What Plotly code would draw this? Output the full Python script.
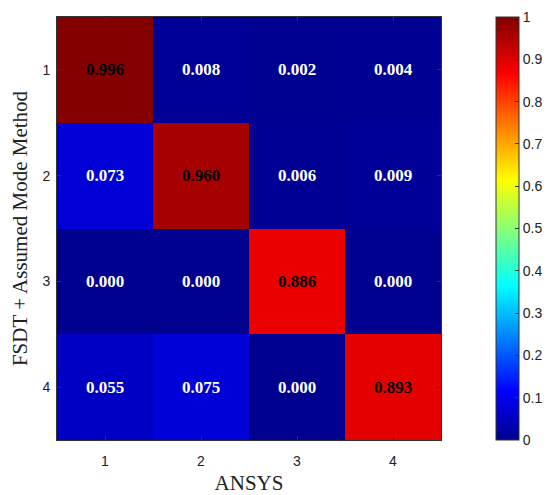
import plotly.graph_objects as go

# MAC values: rows = FSDT + Assumed Mode Method, cols = ANSYS
modes_x = [1, 2, 3, 4]
modes_y = [1, 2, 3, 4]
mac_row1 = [0.996, 0.008, 0.002, 0.004]
mac_row2 = [0.073, 0.960, 0.006, 0.009]
mac_row3 = [0.000, 0.000, 0.886, 0.000]
mac_row4 = [0.055, 0.075, 0.000, 0.893]
cbar_ticks = [0, 0.1, 0.2, 0.3, 0.4, 0.5, 0.6, 0.7, 0.8, 0.9, 1]
cbar_labels = ["0", "0.1", "0.2", "0.3", "0.4", "0.5", "0.6", "0.7", "0.8", "0.9", "1"]

z = [mac_row1, mac_row2, mac_row3, mac_row4]

# matlab-ish jet
jet = [[0.0, "rgb(0,0,143)"], [0.115, "rgb(0,0,255)"], [0.365, "rgb(0,255,255)"],
       [0.615, "rgb(255,255,0)"], [0.865, "rgb(255,0,0)"], [1.0, "rgb(128,0,0)"]]

# page body has an 8px margin, so the figure is a bit smaller than the window
W, H = 542, 487

fig = go.Figure(go.Heatmap(
    x=modes_x, y=modes_y, z=z, zmin=0, zmax=1, colorscale=jet,
    xgap=0, ygap=0, hoverinfo="skip",
    colorbar=dict(xref="container", x=488 / W, xanchor="left", xpad=0, ypad=0,
                  yref="paper", y=0.5, yanchor="middle", len=1, lenmode="fraction",
                  thickness=23, outlinecolor="#333", outlinewidth=1,
                  ticks="inside", ticklen=4, tickcolor="#333", ticklabeloverflow="allow",
                  tickvals=cbar_ticks, ticktext=cbar_labels,
                  tickfont=dict(family="Liberation Sans", size=14, color="#222")),
))

for i, row in enumerate(z):
    for j, v in enumerate(row):
        fig.add_annotation(x=modes_x[j], y=modes_y[i], text="<b>%.3f</b>" % v, showarrow=False,
                           font=dict(family="Liberation Serif", size=17,
                                     color="black" if v > 0.5 else "white"))

axis_common = dict(showline=True, linecolor="#333", linewidth=1, mirror="ticks",
                   ticks="inside", ticklen=4, tickcolor="#333",
                   tickfont=dict(family="Liberation Sans", size=14, color="#222"),
                   showgrid=False, zeroline=False, tickvals=[1, 2, 3, 4])
fig.update_xaxes(**axis_common, range=[0.5, 4.5], automargin=False, ticklabelstandoff=8,
                 title=dict(text="ANSYS", font=dict(family="Liberation Serif", size=21, color="#222"), standoff=10))
fig.update_yaxes(**axis_common, range=[4.5, 0.5], automargin=False, ticklabelstandoff=3,
                 title=dict(text="FSDT + Assumed Mode Method", font=dict(family="Liberation Serif", size=21, color="#222"), standoff=16))

fig.update_layout(width=W, height=H, margin=dict(l=49, r=109, t=9, b=55, autoexpand=False),
                  paper_bgcolor="white", plot_bgcolor="white")
fig.write_html("out.html")
